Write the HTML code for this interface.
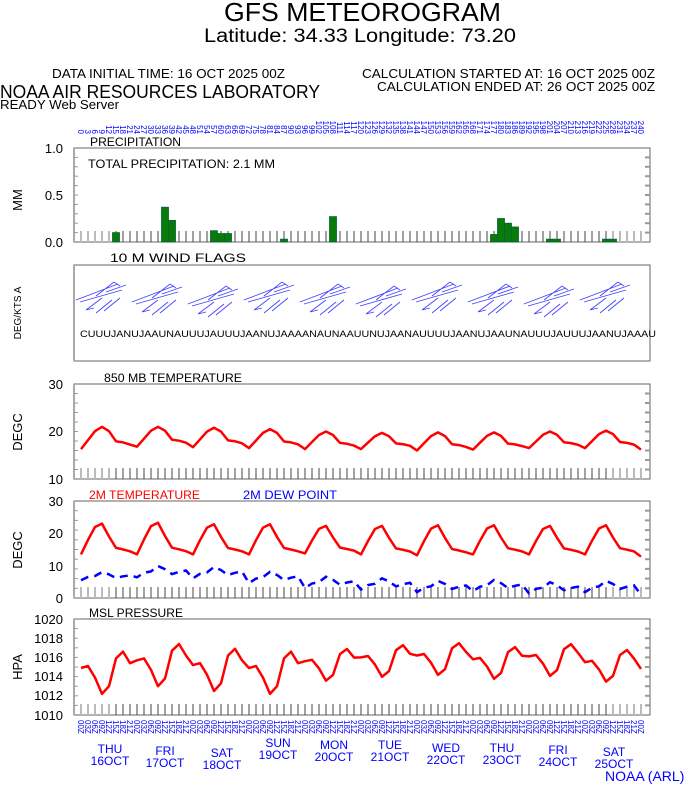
<!DOCTYPE html>
<html><head><meta charset="utf-8"><style>
html,body{margin:0;padding:0;background:#fff;width:694px;height:788px;overflow:hidden}
svg{display:block;font-family:"Liberation Sans",sans-serif}
</style></head><body>
<svg id="s" width="694" height="788" viewBox="0 0 694 788" xmlns="http://www.w3.org/2000/svg">
<g fill="#000">
<text x="224" y="21" font-size="26" textLength="277" lengthAdjust="spacingAndGlyphs">GFS METEOROGRAM</text>
<text x="204" y="42" font-size="19" textLength="312" lengthAdjust="spacingAndGlyphs">Latitude: 34.33 Longitude:  73.20</text>
<text x="52" y="78" font-size="13" textLength="233" lengthAdjust="spacingAndGlyphs">DATA INITIAL TIME: 16 OCT 2025 00Z</text>
<text x="362" y="78" font-size="13" textLength="293" lengthAdjust="spacingAndGlyphs">CALCULATION STARTED AT: 16 OCT 2025 00Z</text>
<text x="377" y="91" font-size="13" textLength="278" lengthAdjust="spacingAndGlyphs">CALCULATION ENDED AT: 26 OCT 2025 00Z</text>
<text x="0" y="98" font-size="18" textLength="320" lengthAdjust="spacingAndGlyphs">NOAA AIR RESOURCES LABORATORY</text>
<text x="0" y="109" font-size="13" textLength="119" lengthAdjust="spacingAndGlyphs">READY Web Server</text>
<text x="90" y="146" font-size="12" textLength="91" lengthAdjust="spacingAndGlyphs">PRECIPITATION</text>
<text x="88" y="168" font-size="12" textLength="187" lengthAdjust="spacingAndGlyphs">TOTAL PRECIPITATION:   2.1 MM</text>
<text x="110" y="262" font-size="12" textLength="136" lengthAdjust="spacingAndGlyphs">10 M  WIND FLAGS</text>
<text x="104" y="382" font-size="12" textLength="138" lengthAdjust="spacingAndGlyphs">850 MB  TEMPERATURE</text>
<text x="89" y="499" font-size="12" fill="#f00" textLength="111" lengthAdjust="spacingAndGlyphs">2M TEMPERATURE</text>
<text x="243" y="499" font-size="12" fill="#00f" textLength="94" lengthAdjust="spacingAndGlyphs">2M  DEW POINT</text>
<text x="89" y="617" font-size="12" textLength="94" lengthAdjust="spacingAndGlyphs">MSL PRESSURE</text>
</g>
<g font-size="13" text-anchor="end" fill="#000">
<text x="63" y="153">1.0</text><text x="63" y="200">0.5</text><text x="63" y="247">0.0</text>
<text x="63" y="389">30</text><text x="63" y="436">20</text><text x="63" y="484">10</text>
<text x="63" y="506">30</text><text x="63" y="538">20</text><text x="63" y="571">10</text><text x="63" y="603">0</text>
<text x="63" y="624">1020</text><text x="63" y="643">1018</text><text x="63" y="662">1016</text><text x="63" y="681">1014</text><text x="63" y="700">1012</text><text x="63" y="720">1010</text>
</g>
<g font-size="13" text-anchor="middle" fill="#000">
<text transform="translate(22,200) rotate(-90)">MM</text>
<text transform="translate(21,313) rotate(-90)" font-size="10">DEG/KTS A</text>
<text transform="translate(22,432) rotate(-90)">DEGC</text>
<text transform="translate(22,550) rotate(-90)">DEGC</text>
<text transform="translate(22,667) rotate(-90)">HPA</text>
</g>
<g id="geo"></g>
<text x="80" y="337" font-size="9" fill="#000" textLength="576" lengthAdjust="spacingAndGlyphs">CUUUJANUJAAUNAUUUJAUUUJAANUJAAAANAUNAAUUNUJAANAUUUUJAANUJAAUNAUUUJAUUUJAANUJAAAU</text>
<g transform="rotate(90)" font-size="8" fill="#00f" text-anchor="end">
<text x="134" y="-78">0</text><text x="134" y="-85">3</text><text x="134" y="-92">6</text><text x="134" y="-99">9</text><text x="134" y="-106">12</text><text x="134" y="-113">15</text><text x="134" y="-120">18</text><text x="134" y="-127">21</text><text x="134" y="-134">24</text><text x="134" y="-141">27</text><text x="134" y="-148">30</text><text x="134" y="-155">33</text><text x="134" y="-162">36</text><text x="134" y="-169">39</text><text x="134" y="-176">42</text><text x="134" y="-183">45</text><text x="134" y="-190">48</text><text x="134" y="-197">51</text><text x="134" y="-204">54</text><text x="134" y="-211">57</text><text x="134" y="-218">60</text><text x="134" y="-225">63</text><text x="134" y="-232">66</text><text x="134" y="-239">69</text><text x="134" y="-246">72</text><text x="134" y="-253">75</text><text x="134" y="-260">78</text><text x="134" y="-267">81</text><text x="134" y="-274">84</text><text x="134" y="-281">87</text><text x="134" y="-288">90</text><text x="134" y="-295">93</text><text x="134" y="-302">96</text><text x="134" y="-309">99</text><text x="134" y="-316">102</text><text x="134" y="-323">105</text><text x="134" y="-330">108</text><text x="134" y="-337">111</text><text x="134" y="-344">114</text><text x="134" y="-351">117</text><text x="134" y="-358">120</text><text x="134" y="-365">123</text><text x="134" y="-372">126</text><text x="134" y="-379">129</text><text x="134" y="-386">132</text><text x="134" y="-393">135</text><text x="134" y="-400">138</text><text x="134" y="-407">141</text><text x="134" y="-414">144</text><text x="134" y="-421">147</text><text x="134" y="-428">150</text><text x="134" y="-435">153</text><text x="134" y="-442">156</text><text x="134" y="-449">159</text><text x="134" y="-456">162</text><text x="134" y="-463">165</text><text x="134" y="-470">168</text><text x="134" y="-477">171</text><text x="134" y="-484">174</text><text x="134" y="-491">177</text><text x="134" y="-498">180</text><text x="134" y="-505">183</text><text x="134" y="-512">186</text><text x="134" y="-519">189</text><text x="134" y="-526">192</text><text x="134" y="-533">195</text><text x="134" y="-540">198</text><text x="134" y="-547">201</text><text x="134" y="-554">204</text><text x="134" y="-561">207</text><text x="134" y="-568">210</text><text x="134" y="-575">213</text><text x="134" y="-582">216</text><text x="134" y="-589">219</text><text x="134" y="-596">222</text><text x="134" y="-603">225</text><text x="134" y="-610">228</text><text x="134" y="-617">231</text><text x="134" y="-624">234</text><text x="134" y="-631">237</text><text x="134" y="-638">240</text>
</g>
<g transform="rotate(90)" font-size="8" fill="#00f">
<text x="720" y="-78">00Z</text><text x="720" y="-85">03Z</text><text x="720" y="-92">06Z</text><text x="720" y="-99">09Z</text><text x="720" y="-106">12Z</text><text x="720" y="-113">15Z</text><text x="720" y="-120">18Z</text><text x="720" y="-127">21Z</text>
<text x="720" y="-134">00Z</text><text x="720" y="-141">03Z</text><text x="720" y="-148">06Z</text><text x="720" y="-155">09Z</text><text x="720" y="-162">12Z</text><text x="720" y="-169">15Z</text><text x="720" y="-176">18Z</text><text x="720" y="-183">21Z</text>
<text x="720" y="-190">00Z</text><text x="720" y="-197">03Z</text><text x="720" y="-204">06Z</text><text x="720" y="-211">09Z</text><text x="720" y="-218">12Z</text><text x="720" y="-225">15Z</text><text x="720" y="-232">18Z</text><text x="720" y="-239">21Z</text>
<text x="720" y="-246">00Z</text><text x="720" y="-253">03Z</text><text x="720" y="-260">06Z</text><text x="720" y="-267">09Z</text><text x="720" y="-274">12Z</text><text x="720" y="-281">15Z</text><text x="720" y="-288">18Z</text><text x="720" y="-295">21Z</text>
<text x="720" y="-302">00Z</text><text x="720" y="-309">03Z</text><text x="720" y="-316">06Z</text><text x="720" y="-323">09Z</text><text x="720" y="-330">12Z</text><text x="720" y="-337">15Z</text><text x="720" y="-344">18Z</text><text x="720" y="-351">21Z</text>
<text x="720" y="-358">00Z</text><text x="720" y="-365">03Z</text><text x="720" y="-372">06Z</text><text x="720" y="-379">09Z</text><text x="720" y="-386">12Z</text><text x="720" y="-393">15Z</text><text x="720" y="-400">18Z</text><text x="720" y="-407">21Z</text>
<text x="720" y="-414">00Z</text><text x="720" y="-421">03Z</text><text x="720" y="-428">06Z</text><text x="720" y="-435">09Z</text><text x="720" y="-442">12Z</text><text x="720" y="-449">15Z</text><text x="720" y="-456">18Z</text><text x="720" y="-463">21Z</text>
<text x="720" y="-470">00Z</text><text x="720" y="-477">03Z</text><text x="720" y="-484">06Z</text><text x="720" y="-491">09Z</text><text x="720" y="-498">12Z</text><text x="720" y="-505">15Z</text><text x="720" y="-512">18Z</text><text x="720" y="-519">21Z</text>
<text x="720" y="-526">00Z</text><text x="720" y="-533">03Z</text><text x="720" y="-540">06Z</text><text x="720" y="-547">09Z</text><text x="720" y="-554">12Z</text><text x="720" y="-561">15Z</text><text x="720" y="-568">18Z</text><text x="720" y="-575">21Z</text>
<text x="720" y="-582">00Z</text><text x="720" y="-589">03Z</text><text x="720" y="-596">06Z</text><text x="720" y="-603">09Z</text><text x="720" y="-610">12Z</text><text x="720" y="-617">15Z</text><text x="720" y="-624">18Z</text><text x="720" y="-631">21Z</text>
<text x="720" y="-638">00Z</text>
</g>
<g font-size="12" fill="#00f" text-anchor="middle">
<text x="110" y="753">THU</text><text x="110" y="765">16OCT</text>
<text x="165" y="755">FRI</text><text x="165" y="767">17OCT</text>
<text x="222" y="757">SAT</text><text x="222" y="769">18OCT</text>
<text x="278" y="747">SUN</text><text x="278" y="759">19OCT</text>
<text x="334" y="749">MON</text><text x="334" y="761">20OCT</text>
<text x="390" y="749">TUE</text><text x="390" y="761">21OCT</text>
<text x="446" y="752">WED</text><text x="446" y="764">22OCT</text>
<text x="502" y="752">THU</text><text x="502" y="764">23OCT</text>
<text x="558" y="754">FRI</text><text x="558" y="766">24OCT</text>
<text x="614" y="756">SAT</text><text x="614" y="768">25OCT</text>
</g>
<text x="605" y="781" font-size="14" fill="#00f">NOAA (ARL)</text>
</svg>
<script>
(function(){
var g=document.getElementById('geo'),h='';
var X=function(i){return 81+7*i;};
var L=74,R=650;
var panels=[[148,242],[265,361],[384,479],[501,598],[619,715]];
panels.forEach(function(p,k){
 h+='<rect x="'+L+'" y="'+p[0]+'" width="'+(R-L)+'" height="'+(p[1]-p[0])+'" fill="none" stroke="#666" stroke-width="1"/>';
 h+='<line x1="'+L+'" y1="'+p[0]+'" x2="'+L+'" y2="'+p[1]+'" stroke="#aaa" stroke-width="2"/>';
 if(k!=1){
 for(var i=0;i<=80;i++){var light=(i<5||i>75);
  h+='<line x1="'+X(i)+'" y1="'+(p[1]-11)+'" x2="'+X(i)+'" y2="'+p[1]+'" stroke="'+(light?'#bbb':'#444')+'" stroke-width="'+(light?2:1)+'"/>';}
 for(var j=1;j<10;j++){var yy=p[0]+(p[1]-p[0])*j/10;
  h+='<line x1="'+(R-5)+'" y1="'+yy+'" x2="'+R+'" y2="'+yy+'" stroke="#999" stroke-width="2"/>';
  h+='<line x1="'+L+'" y1="'+yy+'" x2="'+(L+4)+'" y2="'+yy+'" stroke="#999" stroke-width="1"/>';}
 }
});
var bars=[[5,.1],[12,.37],[13,.23],[19,.12],[20,.09],[21,.09],[29,.03],[36,.27],[59,.08],[60,.25],[61,.2],[62,.16],[67,.03],[68,.03],[75,.03],[76,.03]];
bars.forEach(function(b){var hh=b[1]*94;h+='<rect x="'+(X(b[0])-3.5)+'" y="'+(242-hh)+'" width="7" height="'+hh+'" fill="#0a7a0a" stroke="#063" stroke-width="0.8"/>';});
function series(mins,peaks,shape,fin){var v=[];for(var d=0;d<10;d++)for(var k=0;k<8;k++)v.push(mins[d]+(peaks[d]-mins[d])*shape[k]);v.push(fin);return v;}
function path(v,lo,hi,top,bot){var s='';v.forEach(function(val,i){var y=bot-(val-lo)/(hi-lo)*(bot-top);s+=(i?'L':'M')+X(i)+','+y.toFixed(1);});return s;}
var t850=series([16.3,16.8,16.7,16.5,16.3,16.3,16,16.2,16.5,16.5],[21,21,20.8,20.5,20,19.7,19.8,19.8,20,20.2],[0,.4,.8,1,.8,.35,.3,.2],16.2);
h+='<path d="'+path(t850,10,30,384,479)+'" fill="none" stroke="#f00" stroke-width="2.5" stroke-linejoin="round"/>';
var t2=series([13.5,13.5,13.5,13.5,13.8,13.5,13.2,13.5,13.5,13.5],[23,23.3,22.8,22.8,22.3,22.3,22.5,22.5,22.3,22.5],[0,.47,.89,1,.58,.21,.16,.1],12.8);
h+='<path d="'+path(t2,0,30,501,598)+'" fill="none" stroke="#f00" stroke-width="2.5" stroke-linejoin="round"/>';
var base=[6.5,7.8,7.5,6,4.5,4,3.2,3.5,2.8,3.2],sh=[-1,0,.3,1.5,.8,-.3,.2,.5],dp=[];
for(var d=0;d<10;d++)for(var k=0;k<8;k++)dp.push(base[d]+sh[k]*(d==0?1:1.4));dp.push(1);
h+='<path d="'+path(dp,0,30,501,598)+'" fill="none" stroke="#00f" stroke-width="2.5" stroke-dasharray="8,6"/>';
var pb=[1014.9,1015.7,1015.2,1014.9,1015.6,1016,1016.2,1015.8,1016.1,1015.5],pr=[];
for(var d=0;d<10;d++){var a=d<4?1:0.75;var po=[0,.2,-1,-2.7,-1.9,1,1.7,.5];for(var k=0;k<8;k++)pr.push(pb[d]+po[k]*a);}pr.push(1014.8);
h+='<path d="'+path(pr,1010,1020,619,715)+'" fill="none" stroke="#f00" stroke-width="2.5" stroke-linejoin="round"/>';
var c='stroke="#44f" stroke-width="0.9" fill="none"';
for(var d=0;d<10;d++){var x0=76+56*d,dy=(d%3)*2;
 h+='<path '+c+' d="M'+x0+','+(300+dy)+'L'+(x0+42)+','+(284+dy)+' M'+(x0+4)+','+(302+dy)+'L'+(x0+46)+','+(290+dy)+' M'+(x0+20)+','+(296+dy)+'L'+(x0+38)+','+(282+dy)+'L'+(x0+44)+','+(286+dy)+' M'+(x0+30)+','+(292+dy)+'L'+(x0+50)+','+(285+dy)+'"/>';
 h+='<path '+c+' d="M'+(x0+10)+','+(310+dy)+'L'+(x0+26)+','+(298+dy)+' M'+(x0+10)+','+(310+dy)+'L'+(x0+18)+','+(308+dy)+' M'+(x0+20)+','+(313+dy)+'L'+(x0+36)+','+(300+dy)+' M'+(x0+28)+','+(311+dy)+'L'+(x0+44)+','+(298+dy)+'"/>';
}
g.innerHTML=h;
})();
</script>
</body></html>
